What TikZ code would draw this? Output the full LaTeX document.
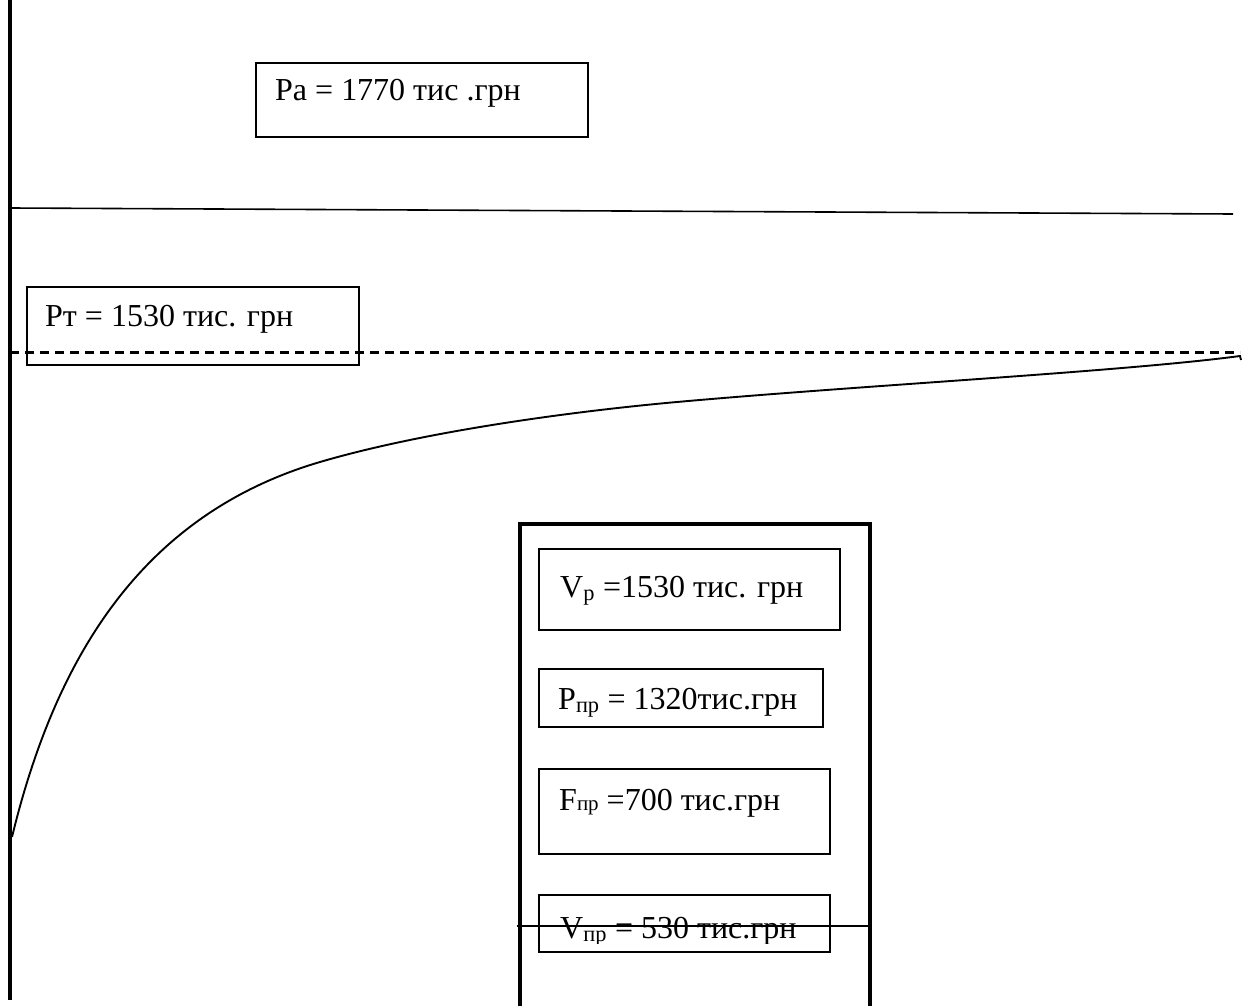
\documentclass[tikz,border=0pt]{standalone}
\usepackage{fontspec}
\setmainfont{Liberation Serif}
\begin{document}
\begin{tikzpicture}[x=1pt,y=-1pt,
  box/.style={draw, line width=1.6pt, rectangle, inner sep=0pt, anchor=north west},
  bigbox/.style={draw, line width=4pt, rectangle, inner sep=0pt, anchor=north west},
  txt/.style={inner sep=0pt, anchor=base west, font=\fontsize{32}{36}\selectfont},
  thinline/.style={line width=1.6pt},
  axisline/.style={line width=4pt},
  level/.style={line width=3pt, dash pattern=on 9pt off 6pt},
  curveline/.style={line width=1.9pt}
]
\useasboundingbox (0,0) rectangle (1251,1006);

% axis
\draw[axisline] (10,0) -- (10,1000);

% top box
\node[box, minimum width=332pt, minimum height=74pt] (pa) at (255,62) {};
\node[txt] (pat) at (275,101) {Pa = 1770 тис .грн};

% solid line
\coordinate (s1) at (10,208);
\coordinate (s2) at (1233,214);
\draw[thinline] (s1) -- (s2);

% Pt box
\node[box, minimum width=332pt, minimum height=78pt] (pt) at (26,286) {};
\node[txt] (ptt) at (45,326) {Pт = 1530 тис. грн};

% dashed line
\coordinate (d1) at (10,352);
\coordinate (d2) at (1240,352);
\draw[level] (d1) -- (d2);

% curve
\draw[curveline] (12,837) .. controls (55,660) and (140,515) .. (320,462)
  .. controls (420,432.6) and (560,413) .. (666,403)
  .. controls (850,386) and (1120,372) .. (1240,356) -- (1241,360);

% big box
\node[bigbox, minimum width=350pt, minimum height=520pt] (big) at (518,522) {};

% inner boxes
\node[box, minimum width=301pt, minimum height=81pt] (vp) at (538,548) {};
\node[txt] (vpt) at (560,597) {V\textsubscript{p} =1530 тис. грн};

\node[box, minimum width=284pt, minimum height=58pt] (ppr) at (538,668) {};
\node[txt] (pprt) at (558,709) {P\textsubscript{пр} = 1320тис.грн};

\node[box, minimum width=291pt, minimum height=85pt] (fpr) at (538,768) {};
\node[txt] (fprt) at (559,810) {F{\fontsize{21}{24}\selectfont пр} =700 тис.грн};

\node[box, minimum width=291pt, minimum height=57pt] (vpr) at (538,894) {};
\begin{scope}
\clip (530,890) rectangle (840,943);
\node[txt] (vprt) at (560,938) {V\textsubscript{пр} = 530 тис.грн};
\end{scope}

% cross line
\coordinate (c1) at (517,926);
\coordinate (c2) at (868,926);
\draw[thinline] (c1) -- (c2);
\end{tikzpicture}
\end{document}
